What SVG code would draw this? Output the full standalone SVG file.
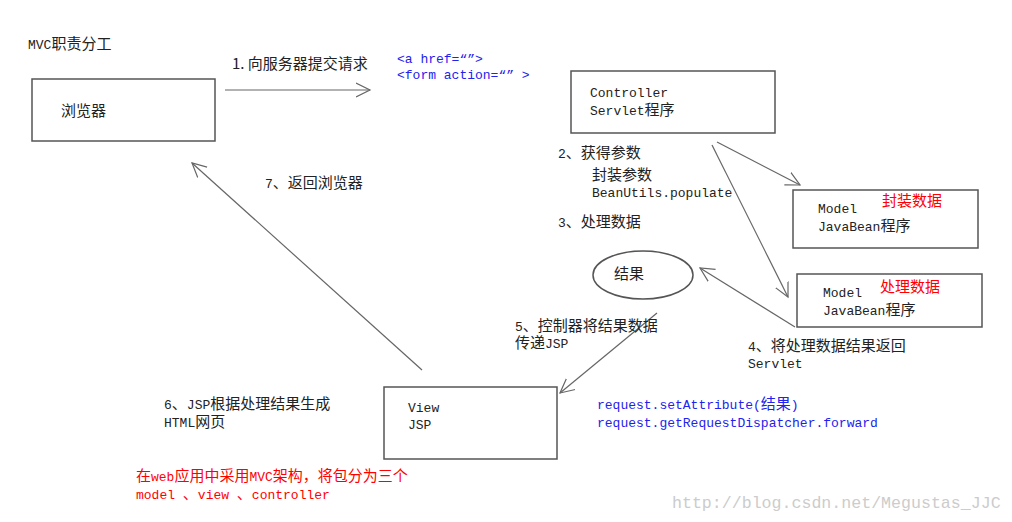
<svg xmlns="http://www.w3.org/2000/svg" width="1012" height="522" viewBox="0 0 1012 522">
<style>
.box{fill:#fff;stroke:#555;stroke-width:1.5}
.ln{fill:none;stroke:#666;stroke-width:1.2;marker-end:url(#oa)}
.m{font-family:"Liberation Mono","Noto Sans CJK SC",monospace;font-size:13px;fill:#222}
.s{font-family:"Noto Sans CJK SC","Liberation Sans",sans-serif;font-size:15px;fill:#222}
.c{font-family:"Noto Sans CJK SC",sans-serif;font-size:15px}
.blue{fill:#2222ee}
.red{fill:#ff0000}
.rs{font-family:"Noto Sans CJK SC",sans-serif;font-size:15px;fill:#ff0000}
.wm{font-family:"Liberation Mono",monospace;font-size:16.6px;fill:#cccccc}
</style>
<defs>
<marker id="oa" markerUnits="userSpaceOnUse" markerWidth="16" markerHeight="16" refX="14" refY="7" orient="auto" viewBox="0 0 16 14">
<path d="M0,0 L14,7 L0,14" fill="none" stroke="#666" stroke-width="1.2"/>
</marker>
</defs>
<rect width="1012" height="522" fill="#fff"/>
<text class="m" x="28" y="49">MVC<tspan class="c" font-size="14px">职责分工</tspan></text>

<g id="browser">
<rect class="box" x="32" y="79" width="183" height="62"/>
<text class="s" x="61" y="116">浏览器</text>
</g>
<g id="controller">
<rect class="box" x="571" y="71" width="204" height="62"/>
<text class="m" x="590" y="97">Controller</text>
<text class="m" x="590" y="115">Servlet<tspan class="c">程序</tspan></text>
</g>
<g id="model1">
<rect class="box" x="793" y="190" width="185" height="58"/>
<text class="m" x="818" y="213">Model</text>
<text class="m" x="818" y="231">JavaBean<tspan class="c">程序</tspan></text>
<text class="rs" x="882" y="206">封装数据</text>
</g>
<g id="model2">
<rect class="box" x="797" y="274" width="185" height="53"/>
<text class="m" x="823" y="297">Model</text>
<text class="m" x="823" y="315">JavaBean<tspan class="c">程序</tspan></text>
<text class="rs" x="880" y="292">处理数据</text>
</g>
<g id="result">
<ellipse cx="643" cy="275" rx="50" ry="24" fill="#fff" stroke="#555" stroke-width="1.5"/>
<text class="s" x="614" y="279">结果</text>
</g>
<g id="view">
<rect class="box" x="384" y="387" width="173" height="72"/>
<text class="m" x="408" y="412">View</text>
<text class="m" x="408" y="429">JSP</text>
</g>

<g id="connectors">
<line class="ln" x1="225" y1="90" x2="370" y2="90"/>
<line class="ln" x1="717" y1="142" x2="800" y2="185"/>
<line class="ln" x1="712" y1="145" x2="788" y2="297"/>
<line class="ln" x1="795" y1="327" x2="700" y2="268"/>
<line class="ln" x1="657" y1="313" x2="560" y2="393"/>
<line class="ln" x1="422" y1="370" x2="192" y2="163"/>
</g>

<g id="labels">
<text class="s" x="232" y="69">1. 向服务器提交请求</text>
<text class="m blue" x="397" y="63">&lt;a href=“”&gt;</text>
<text class="m blue" x="397" y="79">&lt;form action=“” &gt;</text>
<text class="m" x="558" y="158">2<tspan class="c">、获得参数</tspan></text>
<text class="m" x="592" y="180"><tspan class="c">封装参数</tspan></text>
<text class="m" x="592" y="197">BeanUtils.populate</text>
<text class="m" x="558" y="227">3<tspan class="c">、处理数据</tspan></text>
<text class="m" x="265" y="188">7<tspan class="c">、返回浏览器</tspan></text>
<text class="m" x="515" y="331">5<tspan class="c">、控制器将结果数据</tspan></text>
<text class="m" x="515" y="348"><tspan class="c">传递</tspan>JSP</text>
<text class="m" x="748" y="351">4<tspan class="c">、将处理数据结果返回</tspan></text>
<text class="m" x="748" y="368">Servlet</text>
<text class="m" x="164" y="409">6<tspan class="c">、</tspan>JSP<tspan class="c">根据处理结果生成</tspan></text>
<text class="m" x="164" y="427">HTML<tspan class="c">网页</tspan></text>
<text class="m blue" x="597" y="409">request.setAttribute(<tspan class="c">结果</tspan>)</text>
<text class="m blue" x="597" y="427">request.getRequestDispatcher.forward</text>
<text class="m red" x="136" y="481"><tspan class="c">在</tspan>web<tspan class="c">应用中采用</tspan>MVC<tspan class="c">架构，将包分为三个</tspan></text>
<text class="m red" x="136" y="499">model <tspan class="c">、</tspan>view <tspan class="c">、</tspan>controller</text>
<text class="wm" x="672" y="508">http://blog.csdn.net/Megustas_JJC</text>
</g>
</svg>
